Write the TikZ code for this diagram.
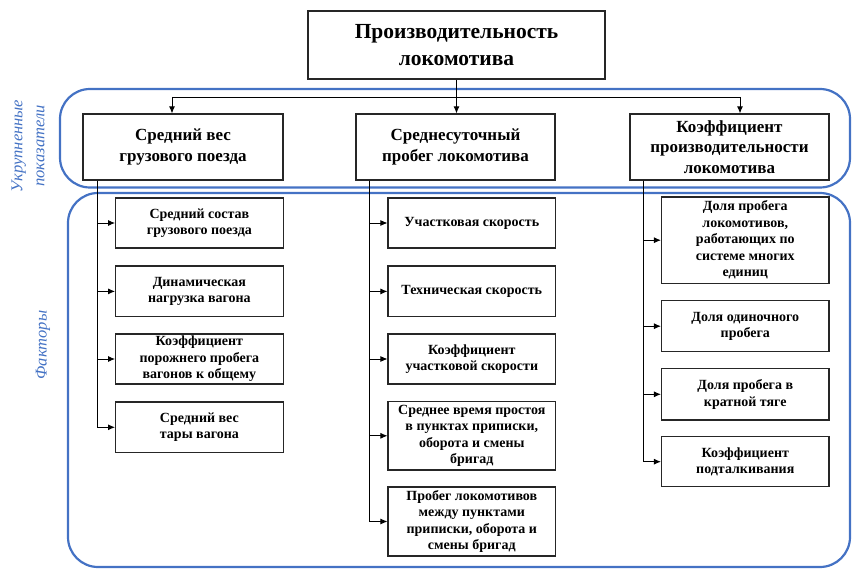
\documentclass[tikz,border=0pt]{standalone}
\usepackage{fontspec}
\setmainfont{Liberation Serif}
\usetikzlibrary{arrows.meta}
\definecolor{bandblue}{HTML}{4472C4}
\begin{document}
\begin{tikzpicture}[x=1pt,y=-1pt,
  box/.style={draw=black!85, line width=1.2pt, fill=white, align=center, inner sep=1pt,
    font=\bfseries\fontsize{14}{16.5}\selectfont},
  lvl/.style={box, minimum width=199pt, minimum height=66pt, font=\bfseries\fontsize{17}{20.5}\selectfont},
  child/.style={box, minimum width=167.5pt},
  arr/.style={line width=0.9pt, -{Latex[length=7pt,width=6pt]}},
  line/.style={line width=0.9pt},
  band/.style={draw=bandblue, line width=2.2pt, rounded corners=30pt},
  side/.style={text=bandblue, font=\itshape\fontsize{16.5}{22}\selectfont, rotate=90, align=center}]
\useasboundingbox (0,0) rectangle (852,569);

% bands
\draw[band] (60,89) rectangle (850,187.5);
\draw[band] (68,193) rectangle (850,567);

% side labels
\node[side] (lbl1) at (28,146) {Укрупненные\\показатели};
\node[side] (lbl2) at (43,345) {Факторы};

% top
\node[box, minimum width=297pt, minimum height=68pt, font=\bfseries\fontsize{21.5}{27}\selectfont]
  (top) at (456.5,45) {Производительность\\локомотива};

% level 1
\node[lvl, minimum width=200pt] (A) at (183,147) {Средний вес\\грузового поезда};
\node[lvl] (B) at (455.5,147) {Среднесуточный\\пробег локомотива};
\node[lvl] (C) at (729.5,147) {Коэффициент\\производительности\\локомотива};

% children A
\node[child, minimum height=50pt] (a1) at (199.4,223) {Средний состав\\грузового поезда};
\node[child, minimum height=50.7pt] (a2) at (199.4,291.4) {Динамическая\\нагрузка вагона};
\node[child, minimum height=50pt] (a3) at (199.4,359) {Коэффициент\\порожнего пробега\\вагонов к общему};
\node[child, minimum height=50.7pt] (a4) at (199.4,427.3) {Средний вес\\тары вагона};

% children B
\node[child, minimum height=50pt] (b1) at (471.8,223) {Участковая скорость};
\node[child, minimum height=50.7pt] (b2) at (471.8,291.4) {Техническая скорость};
\node[child, minimum height=50pt] (b3) at (471.8,359) {Коэффициент\\участковой скорости};
\node[child, minimum height=68.3pt] (b4) at (471.8,435.8) {Среднее время простоя\\в пунктах приписки,\\оборота и смены\\бригад};
\node[child, minimum height=69pt] (b5) at (471.8,521.5) {Пробег локомотивов\\между пунктами\\приписки, оборота и\\смены бригад};

% children C
\node[child, minimum height=86.3pt] (c1) at (745.3,240.2) {Доля пробега\\локомотивов,\\работающих по\\системе многих\\единиц};
\node[child, minimum height=51pt] (c2) at (745.3,326.2) {Доля одиночного\\пробега};
\node[child, minimum height=51.3pt] (c3) at (745.3,394.3) {Доля пробега в\\кратной тяге};
\node[child, minimum height=50pt] (c4) at (745.3,461.7) {Коэффициент\\подталкивания};

% top connectors
\coordinate (ja) at (172,97);
\coordinate (jc) at (740,97);
\draw[line] (ja) -- (jc);
\draw[arr] (top.south) -- (top.south |- B.north);
\draw[arr] (ja) -- (ja |- A.north);
\draw[arr] (jc) -- (jc |- C.north);

% trunks
\coordinate (tA) at (97,0);
\coordinate (tB) at (369.5,0);
\coordinate (tC) at (643.3,0);
\foreach \c in {a1,a2,a3,a4} \draw[arr] (A.south -| tA) |- (\c.west);
\foreach \c in {b1,b2,b3,b4,b5} \draw[arr] (B.south -| tB) |- (\c.west);
\foreach \c in {c1,c2,c3,c4} \draw[arr] (C.south -| tC) |- (\c.west);
\end{tikzpicture}
\end{document}
